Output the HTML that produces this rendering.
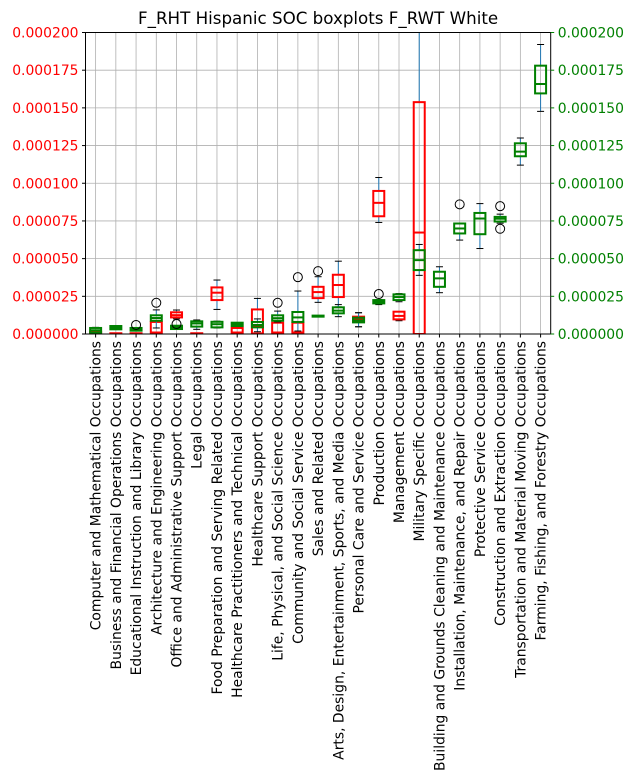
<!DOCTYPE html>
<html><head><meta charset="utf-8"><style>
body{margin:0;background:#fff;}
svg{display:block;font-family:"DejaVu Sans","Liberation Sans",sans-serif;}
</style></head><body>
<svg id="chart" width="635" height="784"></svg>
<script>
const categories=["Computer and Mathematical Occupations","Business and Financial Operations Occupations","Educational Instruction and Library Occupations","Architecture and Engineering Occupations","Office and Administrative Support Occupations","Legal Occupations","Food Preparation and Serving Related Occupations","Healthcare Practitioners and Technical Occupations","Healthcare Support Occupations","Life, Physical, and Social Science Occupations","Community and Social Service Occupations","Sales and Related Occupations","Arts, Design, Entertainment, Sports, and Media Occupations","Personal Care and Service Occupations","Production Occupations","Management Occupations","Military Specific Occupations","Building and Grounds Cleaning and Maintenance Occupations","Installation, Maintenance, and Repair Occupations","Protective Service Occupations","Construction and Extraction Occupations","Transportation and Material Moving Occupations","Farming, Fishing, and Forestry Occupations"];
// values in units of 1e-6: [whiskerLow, q1, median, q3, whiskerHigh]
const hispanicStats=[[0,0,0.5,1.5,1.5],[0,0,0.2,0.5,0.5],[0,0,0.2,0.5,0.5],[0,0.4,1,8,8],[10,11,12.5,14.4,15.9],[0,0,0.2,0.5,0.5],[16.3,22.5,27.4,30.9,35.8],[0,0.4,1,4,4],[0,0.4,5,16.3,23.6],[0,0.4,1,7.5,7.5],[0,0.4,1,7.5,7.5],[21,23.8,27.8,31.3,38],[18,24.5,32.5,39.3,48.3],[4.8,8.2,10,11.5,14.1],[74,78.1,87,94.9,103.8],[8.8,9.7,12,14.8,14.8],[0,0,67.3,153.8,240],null,null,null,null,null,null];
const hispanicOutliers=[[],[],[],[],[],[],[],[],[],[],[],[41.7],[],[],[],[],[],[],[],[],[],[],[]];
const whiteStats=[[0.5,1,2.5,4,4.4],[3,3.1,4.2,5.3,5.5],[2,2.2,3,4,4],[4,8.8,10.6,12.4,16],[3.3,3.3,4.5,5.5,5.5],[3.1,4.9,7,8.4,9.3],[4,4.4,6.5,8.1,8.5],[5.3,5.3,6.5,7.5,7.5],[1.5,4.4,6,8,10],[8,8.8,10.5,12.4,15.2],[2,8,11,14.6,28.5],[11.5,11.5,11.9,12.2,12.2],[11.5,13.7,15.5,17.7,19.5],[4.8,7.7,9,10.8,14.1],[19.5,20.3,21.3,22.5,22.8],[21.4,22.5,24.5,26.3,26.8],[38.9,42.4,49,55.6,59.4],[27.4,31.3,36.9,41.3,44.6],[62.3,66.7,70,73.3,73.3],[56.7,66.2,76.6,80.3,86.5],[73.5,74.6,76.5,77.7,79.5],[112,117.9,121,126.5,130],[147.7,159.6,165.8,178,192]];
const whiteOutliers=[[],[],[6],[20.7],[6.6],[],[],[],[],[20.7],[37.7],[],[],[],[26.5],[],[],[],[86],[],[84.8,69.8],[],[]];
const yTicks=[0,25,50,75,100,125,150,175,200];
const yTickLabels=["0.000000","0.000025","0.000050","0.000075","0.000100","0.000125","0.000150","0.000175","0.000200"];

const NS="http://www.w3.org/2000/svg";
const svg=document.getElementById('chart');
const L=85.5,R=550.7,T=32.5,B=334;
const step=(R-L)/categories.length;
const xPos=i=>L+(i+0.5)*step;
const yPos=v=>B-(v/200)*(B-T);
function mk(tag,attrs,parent){const e=document.createElementNS(NS,tag);for(const k in attrs)e.setAttribute(k,attrs[k]);(parent||svg).appendChild(e);return e;}

const defs=mk('defs',{});const cp=mk('clipPath',{id:'clip'},defs);mk('rect',{x:L,y:T,width:R-L,height:B-T},cp);

const title=mk('text',{x:(L+R)/2,y:24,'text-anchor':'middle','font-size':'16.7'});
title.textContent="F_RHT Hispanic SOC boxplots F_RWT White";



const grid=mk('g',{});


categories.forEach((c,i)=>{mk('line',{x1:xPos(i),x2:xPos(i),y1:T,y2:B,stroke:'#b0b0b0','stroke-width':0.8},grid);});
yTicks.forEach(v=>{mk('line',{x1:L,x2:R,y1:yPos(v),y2:yPos(v),stroke:'#b0b0b0','stroke-width':0.8},grid);});

function drawSeries(stats,outs,color,name){
  const g=mk('g',{'clip-path':'url(#clip)'});
  
  
  stats.forEach((s,i)=>{
    if(!s)return;
    const x=xPos(i),hw=5.5,cw=3.5;
    const bg=mk('g',{},g);
    
    
    mk('line',{x1:x,x2:x,y1:yPos(s[0]),y2:yPos(s[1]),stroke:'#1f77b4','stroke-width':1},bg);
    mk('line',{x1:x,x2:x,y1:yPos(s[3]),y2:yPos(s[4]),stroke:'#1f77b4','stroke-width':1},bg);
    mk('line',{x1:x-cw,x2:x+cw,y1:yPos(s[0]),y2:yPos(s[0]),stroke:'#000','stroke-width':1},bg);
    mk('line',{x1:x-cw,x2:x+cw,y1:yPos(s[4]),y2:yPos(s[4]),stroke:'#000','stroke-width':1},bg);
    mk('rect',{x:x-hw,y:yPos(s[3]),width:hw*2,height:Math.max(0.1,yPos(s[1])-yPos(s[3])),fill:'none',stroke:color,'stroke-width':2},bg);
    mk('line',{x1:x-hw,x2:x+hw,y1:yPos(s[2]),y2:yPos(s[2]),stroke:color,'stroke-width':2},bg);
    outs[i].forEach(o=>{mk('circle',{cx:x,cy:yPos(o),r:4.5,fill:'none',stroke:'#000','stroke-width':1},bg);});
  });
}
drawSeries(hispanicStats,hispanicOutliers,'red','hispanic-series');
drawSeries(whiteStats,whiteOutliers,'green','white-series');

const frame=mk('rect',{x:L,y:T,width:R-L,height:B-T,fill:'none',stroke:'#000','stroke-width':1});



const ly=mk('g',{});


const ry=mk('g',{});


yTicks.forEach((v,k)=>{
  const y=yPos(v);
  mk('line',{x1:L-3.5,x2:L,y1:y,y2:y,stroke:'#000'},ly);
  const t=mk('text',{x:L-7,y:y+5,'text-anchor':'end','font-size':'13.9',fill:'red'},ly);t.textContent=yTickLabels[k];
  mk('line',{x1:R,x2:R+3.5,y1:y,y2:y,stroke:'green'},ry);
  const t2=mk('text',{x:R+7,y:y+5,'text-anchor':'start','font-size':'13.9',fill:'green'},ry);t2.textContent=yTickLabels[k];
});

const xa=mk('g',{});


categories.forEach((c,i)=>{
  const x=xPos(i);
  mk('line',{x1:x,x2:x,y1:B,y2:B+3.5,stroke:'#000'},xa);
  const t=mk('text',{x:0,y:0,'text-anchor':'end','font-size':'13.9',transform:`translate(${x+5},${B+7}) rotate(-90)`},xa);
  t.textContent=c;
  
  
});
</script>
</body></html>
